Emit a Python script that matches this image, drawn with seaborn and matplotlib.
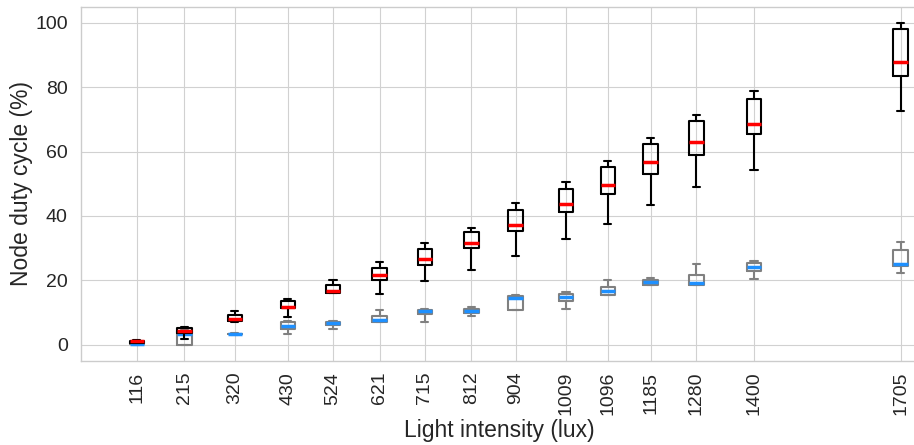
import matplotlib
matplotlib.use("Agg")
import matplotlib.pyplot as plt
import seaborn as sns

# Light intensity (lux) positions / tick labels
lux = [116, 215, 320, 430, 524, 621, 715, 812, 904, 1009, 1096, 1185, 1280, 1400, 1705]

# Series A (black boxes, red median): whisker low, Q1, median, Q3, whisker high
a_lo  = [0.4, 1.8, 7.0, 8.7, 16.0, 15.8, 19.7, 23.1, 27.6, 32.7, 37.6, 43.5, 49.1, 54.3, 72.5]
a_q1  = [0.6, 3.5, 7.2, 11.4, 16.1, 20.2, 24.6, 29.9, 35.2, 41.1, 46.7, 52.9, 58.8, 65.4, 83.4]
a_med = [1.0, 4.1, 8.1, 11.8, 16.8, 21.5, 26.5, 31.7, 37.1, 43.8, 49.5, 56.8, 62.9, 68.4, 87.9]
a_q3  = [1.1, 5.2, 9.2, 13.7, 18.6, 23.9, 29.6, 35.0, 41.7, 48.4, 55.1, 62.2, 69.5, 76.3, 98.2]
a_hi  = [1.3, 5.6, 10.3, 14.2, 20.1, 25.8, 31.5, 36.2, 43.9, 50.5, 57.2, 64.2, 71.4, 78.8, 100.0]

# Series B (grey boxes, blue median)
b_lo  = [0.0, 0.0, 3.0, 3.3, 4.8, 6.9, 7.1, 8.8, 10.9, 11.1, 15.3, 18.4, 18.4, 20.4, 22.2]
b_q1  = [0.1, 0.0, 3.2, 4.7, 6.2, 6.9, 9.5, 9.7, 10.9, 13.4, 15.5, 18.6, 18.4, 22.8, 24.4]
b_med = [0.2, 3.3, 3.3, 5.7, 6.7, 7.8, 10.4, 10.5, 14.4, 14.7, 16.8, 19.4, 19.2, 24.0, 25.2]
b_q3  = [0.4, 4.2, 3.4, 6.9, 7.0, 8.8, 10.9, 11.2, 15.1, 15.6, 17.8, 20.0, 21.7, 25.5, 29.5]
b_hi  = [0.5, 5.0, 3.5, 7.2, 7.3, 10.8, 11.2, 11.6, 15.5, 16.5, 20.1, 20.8, 25.0, 26.1, 32.0]

sns.set_style("whitegrid", {"grid.color": "0.82", "axes.edgecolor": "0.8"})
plt.rcParams["font.family"] = ["Liberation Sans", "DejaVu Sans"]

fig = plt.figure(figsize=(9.14, 4.45), dpi=100)
ax = fig.add_axes([81 / 914, 1 - 360.7 / 445, (917 - 81) / 914, (360.7 - 6.7) / 445])


def stats(lo, q1, med, q3, hi):
    return [dict(whislo=l, q1=a, med=m, q3=b, whishi=h, fliers=[])
            for l, a, m, b, h in zip(lo, q1, med, q3, hi)]


def draw(st, col, medcol, z):
    ax.bxp(st, positions=lux, widths=30, showfliers=False, manage_ticks=False,
           boxprops=dict(color=col, linewidth=1.5),
           whiskerprops=dict(color=col, linewidth=1.5),
           capprops=dict(color=col, linewidth=1.5),
           medianprops=dict(color=medcol, linewidth=2.5, solid_capstyle="butt"),
           zorder=z)


draw(stats(b_lo, b_q1, b_med, b_q3, b_hi), "grey", "#1E90FF", 3)
draw(stats(a_lo, a_q1, a_med, a_q3, a_hi), "black", "red", 4)

ax.set_xlim(0, 1739)
ax.set_ylim(-5, 105)
ax.set_xticks(lux)
ax.set_xticklabels([str(v) for v in lux], rotation=90)
ax.set_yticks([0, 20, 40, 60, 80, 100])
ax.tick_params(axis="both", labelsize=14, colors="#262626")
ax.tick_params(axis="x", pad=4.5)
ax.tick_params(axis="y", pad=6)
ax.set_xlabel("Light intensity (lux)", fontsize=16.5, color="#262626", labelpad=2.4)
ax.set_ylabel("Node duty cycle (%)", fontsize=16.5, color="#262626", labelpad=1.3)
for s in ax.spines.values():
    s.set_linewidth(1.0)

fig.savefig("out.png", dpi=100)
